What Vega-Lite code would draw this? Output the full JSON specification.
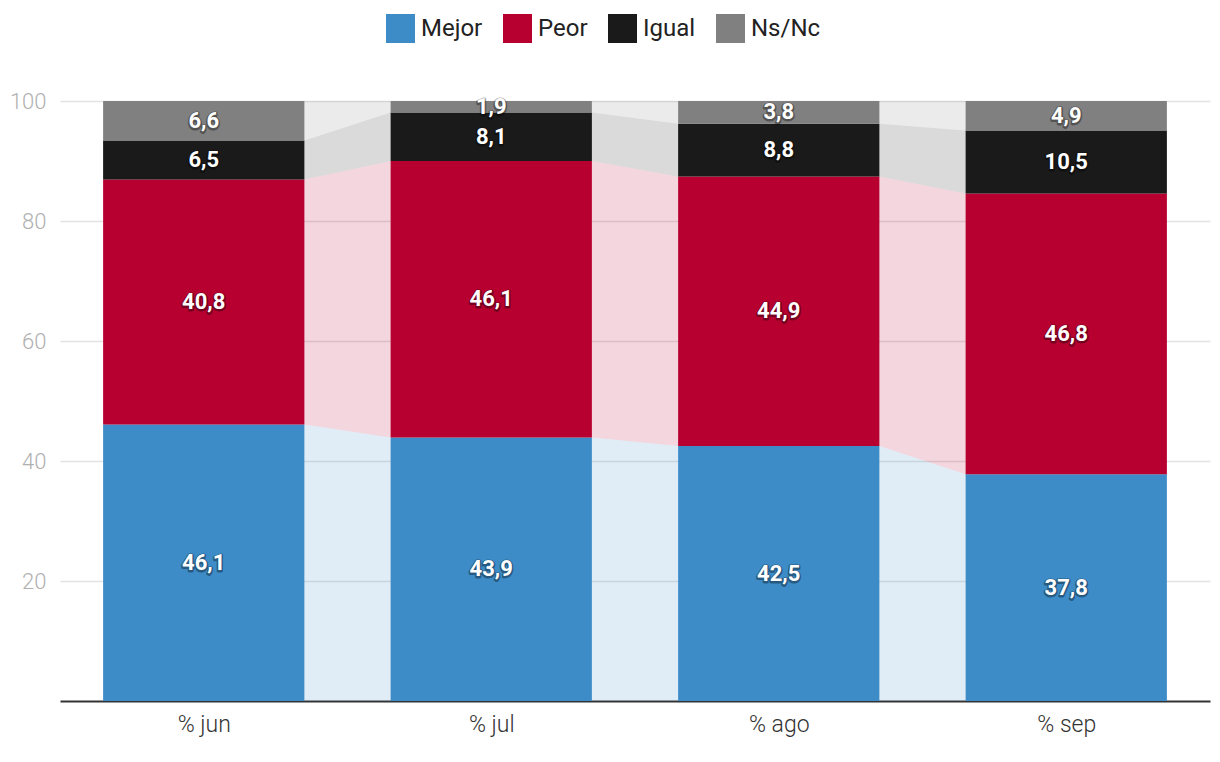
{
  "$schema": "https://vega.github.io/schema/vega-lite/v6.json",
  "width": 1220,
  "height": 762,
  "autosize": {"type": "fit", "contains": "padding"},
  "padding": {"left": 9, "right": 10, "top": 90, "bottom": 26},
  "config": {
    "view": {"stroke": null},
    "font": "Roboto",
    "locale": {"number": {"decimal": ",", "thousands": ".", "grouping": [3], "currency": ["", " €"]}}
  },
  "data": {
    "values": [
      {"mes": "% jun", "i": 0, "cat": "Mejor", "o": 1, "v": 46.1},
      {"mes": "% jun", "i": 0, "cat": "Peor", "o": 2, "v": 40.8},
      {"mes": "% jun", "i": 0, "cat": "Igual", "o": 3, "v": 6.5},
      {"mes": "% jun", "i": 0, "cat": "Ns/Nc", "o": 4, "v": 6.6},
      {"mes": "% jul", "i": 1, "cat": "Mejor", "o": 1, "v": 43.9},
      {"mes": "% jul", "i": 1, "cat": "Peor", "o": 2, "v": 46.1},
      {"mes": "% jul", "i": 1, "cat": "Igual", "o": 3, "v": 8.1},
      {"mes": "% jul", "i": 1, "cat": "Ns/Nc", "o": 4, "v": 1.9},
      {"mes": "% ago", "i": 2, "cat": "Mejor", "o": 1, "v": 42.5},
      {"mes": "% ago", "i": 2, "cat": "Peor", "o": 2, "v": 44.9},
      {"mes": "% ago", "i": 2, "cat": "Igual", "o": 3, "v": 8.8},
      {"mes": "% ago", "i": 2, "cat": "Ns/Nc", "o": 4, "v": 3.8},
      {"mes": "% sep", "i": 3, "cat": "Mejor", "o": 1, "v": 37.8},
      {"mes": "% sep", "i": 3, "cat": "Peor", "o": 2, "v": 46.8},
      {"mes": "% sep", "i": 3, "cat": "Igual", "o": 3, "v": 10.5},
      {"mes": "% sep", "i": 3, "cat": "Ns/Nc", "o": 4, "v": 4.9}
    ]
  },
  "transform": [
    {"stack": "v", "groupby": ["mes"], "sort": [{"field": "o", "order": "ascending"}], "as": ["y0", "y1"]},
    {"calculate": "datum.i - 0.35", "as": "xl"},
    {"calculate": "datum.i + 0.35", "as": "xr"},
    {"calculate": "(datum.y0 + datum.y1) / 2", "as": "ym"}
  ],
  "encoding": {
    "color": {
      "field": "cat",
      "type": "nominal",
      "scale": {"domain": ["Mejor", "Peor", "Igual", "Ns/Nc"], "range": ["#3d8cc8", "#b70030", "#1a1a1a", "#808080"]},
      "legend": {
        "title": null,
        "orient": "none",
        "legendX": 326,
        "legendY": -87,
        "direction": "horizontal",
        "symbolType": "square",
        "symbolSize": 840,
        "symbolOpacity": 1,
        "symbolStrokeWidth": 0,
        "labelFontSize": 24,
        "labelColor": "#222222",
        "labelOffset": 6,
        "columnPadding": 20
      }
    }
  },
  "layer": [
    {
      "transform": [{"fold": ["xl", "xr"], "as": ["edge", "xe"]}],
      "mark": {"type": "area", "opacity": 0.16},
      "encoding": {
        "x": {
          "field": "xe",
          "type": "quantitative",
          "scale": {"domain": [-0.5, 3.5], "nice": false, "zero": false},
          "axis": {
            "title": null,
            "values": [0, 1, 2, 3],
            "labelExpr": "['% jun', '% jul', '% ago', '% sep'][datum.value]",
            "grid": false,
            "ticks": false,
            "domainColor": "#333333",
            "domainWidth": 2,
            "labelFontSize": 23,
            "labelColor": "#333333",
            "labelPadding": 12,
            "labelFontWeight": 300
          }
        },
        "y": {
          "field": "y0",
          "type": "quantitative",
          "stack": null,
          "scale": {"domain": [0, 100], "nice": false},
          "axis": {
            "title": null,
            "values": [20, 40, 60, 80, 100],
            "domain": false,
            "ticks": false,
            "gridColor": "#e3e3e3",
            "gridWidth": 1.5,
            "labelFontSize": 22,
            "labelColor": "#b0b0b0",
            "labelPadding": 14,
            "labelFontWeight": 300
          }
        },
        "y2": {"field": "y1"}
      }
    },
    {
      "mark": {"type": "rect"},
      "encoding": {
        "x": {"field": "xl", "type": "quantitative"},
        "x2": {"field": "xr"},
        "y": {"field": "y0", "type": "quantitative", "stack": null},
        "y2": {"field": "y1"}
      }
    },
    {
      "mark": {"type": "text", "fontSize": 22, "fontWeight": "bold", "fill": "#000000", "stroke": "#000000", "strokeWidth": 3, "opacity": 0.35, "strokeJoin": "round", "dy": 1},
      "encoding": {
        "x": {"field": "i", "type": "quantitative"},
        "y": {"field": "ym", "type": "quantitative"},
        "text": {"field": "v", "type": "quantitative", "format": ".1f"},
        "color": {"value": "#000000"}
      }
    },
    {
      "mark": {"type": "text", "fontSize": 22, "fontWeight": "bold"},
      "encoding": {
        "x": {"field": "i", "type": "quantitative"},
        "y": {"field": "ym", "type": "quantitative"},
        "text": {"field": "v", "type": "quantitative", "format": ".1f"},
        "color": {"value": "#ffffff"}
      }
    }
  ]
}
